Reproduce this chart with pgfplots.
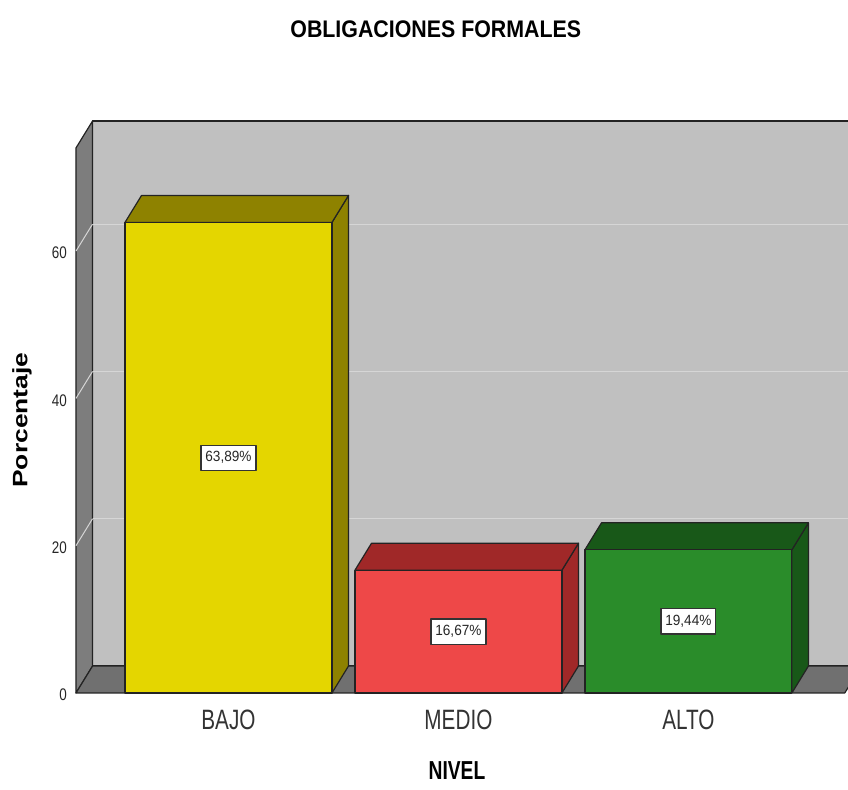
\documentclass[border=0pt]{standalone}
\usepackage{fontspec}
\setmainfont{Liberation Sans}
\newfontfamily\titlefont[FakeStretch=0.89]{Liberation Sans}
\newfontfamily\catfont[FakeStretch=0.74]{Liberation Sans}
\newfontfamily\numfont[FakeStretch=0.8]{Liberation Sans}
\newfontfamily\valfont[FakeStretch=0.92]{Liberation Sans}
\usepackage{pgfplots}
\pgfplotsset{compat=1.18}

\definecolor{wallback}{RGB}{192,192,192}
\definecolor{wallside}{RGB}{125,125,125}
\definecolor{wallfloor}{RGB}{112,112,112}
\definecolor{gridc}{RGB}{214,214,214}
\definecolor{edge}{RGB}{35,35,35}
\definecolor{bajoF}{RGB}{228,214,0}
\definecolor{bajoD}{RGB}{142,130,0}
\definecolor{medioF}{RGB}{238,72,72}
\definecolor{medioD}{RGB}{160,40,40}
\definecolor{altoF}{RGB}{42,140,42}
\definecolor{altoD}{RGB}{24,88,24}

% depth of the 3D effect in axis units: dx = 0.072, dy = 3.66
\pgfplotsset{
  face/.style={draw=edge, line width=0.6pt, line join=round},
  frontbar/.style={ybar, bar width=0.9, bar shift=0pt, face, fill=#1,
    point meta=rawy,
    visualization depends on={rawy \as \vy},
    nodes near coords={\pgfmathprintnumber[fixed,fixed zerofill,precision=2,use comma]{\pgfplotspointmeta}\%},
    every node near coord/.style={anchor=center,
      shift={(axis direction cs:0,-0.5*\vy)},
      font=\valfont\fontsize{7.4}{8}\selectfont, text=black!85,
      fill=white, draw=black!80, line width=0.6pt,
      inner xsep=2.2pt, inner ysep=3.2pt}},
}

\begin{document}
\begin{tikzpicture}
\begin{axis}[name=ax,
  scale only axis, width=386pt, height=286pt,
  xmin=-0.663, xmax=2.694, ymin=0, ymax=77.66,
  clip=false,
  axis line style={draw=none}, major tick length=0pt,
  xtick={0,1,2}, xticklabels={BAJO,MEDIO,ALTO},
  ytick={0,20,40,60},
  /pgf/number format/assume math mode=true,
  xticklabel style={font=\catfont\fontsize{14}{16}\selectfont, text=black!80,
    anchor=center, yshift=-13.5pt},
  yticklabel style={font=\numfont\fontsize{8.4}{10}\selectfont, text=black!85,
    anchor=east, xshift=-1pt, yshift=-1pt},
  title={OBLIGACIONES FORMALES},
  title style={font=\titlefont\bfseries\fontsize{12}{14}\selectfont,
    at={(axis description cs:0.466,1.140)}, anchor=center},
  xlabel={NIVEL},
  xlabel style={font=\catfont\bfseries\fontsize{13}{15}\selectfont,
    at={(axis description cs:0.4935,-0.1364)}, anchor=center},
  ylabel={\scalebox{1}[0.79]{Porcentaje}},
  ylabel style={font=\bfseries\fontsize{13.2}{15}\selectfont,
    at={(axis description cs:-0.0700,0.477)}, anchor=center},
]
% back wall, side wall and floor
\addplot[face, fill=wallback] coordinates {(-0.591,3.66) (-0.591,77.66) (2.75,77.66) (2.75,3.66)} -- cycle;
\addplot[face, fill=wallside] coordinates {(-0.663,0) (-0.663,74) (-0.591,77.66) (-0.591,3.66)} -- cycle;
\addplot[face, fill=wallfloor] coordinates {(-0.663,0) (2.68,0) (2.752,3.66) (-0.591,3.66)} -- cycle;
% grid on the back wall and on the side wall
\addplot[gridc, line width=0.6pt] coordinates {(-0.591,23.66) (2.75,23.66)};
\addplot[gridc, line width=0.6pt] coordinates {(-0.591,43.66) (2.75,43.66)};
\addplot[gridc, line width=0.6pt] coordinates {(-0.591,63.66) (2.75,63.66)};
\addplot[gridc, line width=0.5pt] coordinates {(-0.663,20) (-0.591,23.66)};
\addplot[gridc, line width=0.5pt] coordinates {(-0.663,40) (-0.591,43.66)};
\addplot[gridc, line width=0.5pt] coordinates {(-0.663,60) (-0.591,63.66)};

% BAJO: 63,89 %
\addplot[face, fill=bajoD] coordinates {(0.45,0) (0.522,3.66) (0.522,67.55) (0.45,63.89)} -- cycle;
\addplot[face, fill=bajoD] coordinates {(-0.45,63.89) (-0.378,67.55) (0.522,67.55) (0.45,63.89)} -- cycle;
\addplot[frontbar=bajoF] coordinates {(0,63.89)};

% MEDIO: 16,67 %
\addplot[face, fill=medioD] coordinates {(1.45,0) (1.522,3.66) (1.522,20.33) (1.45,16.67)} -- cycle;
\addplot[face, fill=medioD] coordinates {(0.55,16.67) (0.622,20.33) (1.522,20.33) (1.45,16.67)} -- cycle;
\addplot[frontbar=medioF] coordinates {(1,16.67)};

% ALTO: 19,44 %
\addplot[face, fill=altoD] coordinates {(2.45,0) (2.522,3.66) (2.522,23.10) (2.45,19.44)} -- cycle;
\addplot[face, fill=altoD] coordinates {(1.55,19.44) (1.622,23.10) (2.522,23.10) (2.45,19.44)} -- cycle;
\addplot[frontbar=altoF] coordinates {(2,19.44)};
\end{axis}
\pgfresetboundingbox
\path[use as bounding box] ([xshift=-38pt,yshift=-48.5pt]ax.south west) rectangle ([yshift=60.5pt]ax.north east);
\end{tikzpicture}
\end{document}
